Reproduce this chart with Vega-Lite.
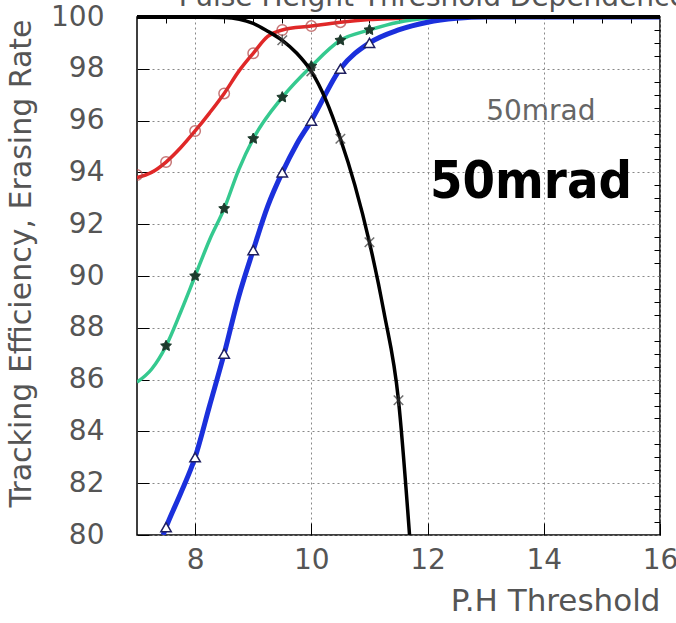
{
  "$schema": "https://vega.github.io/schema/vega-lite/v6.json",
  "width": 523,
  "height": 518,
  "autosize": {"type": "none"},
  "padding": {"left": 137, "top": 17, "right": 16, "bottom": 88},
  "background": "white",
  "config": {
    "view": {"stroke": "black", "strokeWidth": 1.5},
    "axis": {"labelFont": "DejaVu Sans", "titleFont": "DejaVu Sans", "labelColor": "#555", "titleColor": "#555", "labelFontSize": 28, "titleFontSize": 30, "titleFontWeight": "normal", "domainColor": "black", "tickColor": "black", "gridColor": "#888", "gridDash": [2, 3], "gridWidth": 1}
  },
  "resolve": {"axis": {"x": "independent", "y": "independent"}},
  "datasets": {
    "lines": [
      {"series": "red", "x": 7, "y": 93.8}, {"series": "red", "x": 7.25, "y": 94.0}, {"series": "red", "x": 7.5, "y": 94.4}, {"series": "red", "x": 7.75, "y": 94.95}, {"series": "red", "x": 8, "y": 95.6}, {"series": "red", "x": 8.25, "y": 96.3}, {"series": "red", "x": 8.5, "y": 97.05}, {"series": "red", "x": 8.75, "y": 97.9}, {"series": "red", "x": 9, "y": 98.6}, {"series": "red", "x": 9.25, "y": 99.25}, {"series": "red", "x": 9.5, "y": 99.5}, {"series": "red", "x": 10, "y": 99.65}, {"series": "red", "x": 10.5, "y": 99.8}, {"series": "red", "x": 11, "y": 99.9}, {"series": "red", "x": 11.5, "y": 99.95}, {"series": "red", "x": 12, "y": 100}, {"series": "red", "x": 16, "y": 100},
      {"series": "green", "x": 7, "y": 85.9}, {"series": "green", "x": 7.25, "y": 86.4}, {"series": "green", "x": 7.5, "y": 87.3}, {"series": "green", "x": 7.75, "y": 88.6}, {"series": "green", "x": 8, "y": 90.0}, {"series": "green", "x": 8.25, "y": 91.4}, {"series": "green", "x": 8.5, "y": 92.6}, {"series": "green", "x": 8.75, "y": 94.1}, {"series": "green", "x": 9, "y": 95.3}, {"series": "green", "x": 9.5, "y": 96.9}, {"series": "green", "x": 10, "y": 98.1}, {"series": "green", "x": 10.5, "y": 99.1}, {"series": "green", "x": 11, "y": 99.5}, {"series": "green", "x": 11.5, "y": 99.8}, {"series": "green", "x": 12, "y": 99.95}, {"series": "green", "x": 12.5, "y": 100}, {"series": "green", "x": 16, "y": 100},
      {"series": "blue", "x": 7.45, "y": 80.0}, {"series": "blue", "x": 7.5, "y": 80.3}, {"series": "blue", "x": 7.75, "y": 81.6}, {"series": "blue", "x": 8, "y": 83.0}, {"series": "blue", "x": 8.25, "y": 85.0}, {"series": "blue", "x": 8.5, "y": 87.0}, {"series": "blue", "x": 8.75, "y": 89.2}, {"series": "blue", "x": 9, "y": 91.0}, {"series": "blue", "x": 9.25, "y": 92.7}, {"series": "blue", "x": 9.5, "y": 94.0}, {"series": "blue", "x": 9.75, "y": 95.1}, {"series": "blue", "x": 10, "y": 96.0}, {"series": "blue", "x": 10.5, "y": 98.0}, {"series": "blue", "x": 11, "y": 99.0}, {"series": "blue", "x": 11.5, "y": 99.5}, {"series": "blue", "x": 12, "y": 99.8}, {"series": "blue", "x": 12.5, "y": 99.95}, {"series": "blue", "x": 13, "y": 100}, {"series": "blue", "x": 16, "y": 100},
      {"series": "black", "x": 7, "y": 100}, {"series": "black", "x": 8, "y": 100}, {"series": "black", "x": 8.5, "y": 99.98}, {"series": "black", "x": 9, "y": 99.75}, {"series": "black", "x": 9.25, "y": 99.45}, {"series": "black", "x": 9.5, "y": 99.1}, {"series": "black", "x": 9.75, "y": 98.6}, {"series": "black", "x": 10, "y": 97.9}, {"series": "black", "x": 10.25, "y": 96.8}, {"series": "black", "x": 10.5, "y": 95.3}, {"series": "black", "x": 10.75, "y": 93.5}, {"series": "black", "x": 11, "y": 91.3}, {"series": "black", "x": 11.25, "y": 88.6}, {"series": "black", "x": 11.5, "y": 85.2}, {"series": "black", "x": 11.69, "y": 80.0},
      {"series": "top", "x": 7, "y": 100}, {"series": "top", "x": 12, "y": 100}, {"series": "top", "x": 16, "y": 100}
    ],
    "markers": [
      {"series": "red", "x": 7, "y": 93.9}, {"series": "red", "x": 7.5, "y": 94.4}, {"series": "red", "x": 8, "y": 95.6}, {"series": "red", "x": 8.5, "y": 97.05}, {"series": "red", "x": 9, "y": 98.6}, {"series": "red", "x": 9.5, "y": 99.5}, {"series": "red", "x": 10, "y": 99.65}, {"series": "red", "x": 10.5, "y": 99.8},
      {"series": "green", "x": 7.5, "y": 87.3}, {"series": "green", "x": 8, "y": 90.0}, {"series": "green", "x": 8.5, "y": 92.6}, {"series": "green", "x": 9, "y": 95.3}, {"series": "green", "x": 9.5, "y": 96.9}, {"series": "green", "x": 10, "y": 98.1}, {"series": "green", "x": 10.5, "y": 99.1}, {"series": "green", "x": 11, "y": 99.5},
      {"series": "blue", "x": 7.5, "y": 80.3}, {"series": "blue", "x": 8, "y": 83.0}, {"series": "blue", "x": 8.5, "y": 87.0}, {"series": "blue", "x": 9, "y": 91.0}, {"series": "blue", "x": 9.5, "y": 94.0}, {"series": "blue", "x": 10, "y": 96.0}, {"series": "blue", "x": 10.5, "y": 98.0}, {"series": "blue", "x": 11, "y": 99.0},
      {"series": "black", "x": 9.5, "y": 99.1}, {"series": "black", "x": 10, "y": 97.9}, {"series": "black", "x": 10.5, "y": 95.3}, {"series": "black", "x": 11, "y": 91.3}, {"series": "black", "x": 11.5, "y": 85.2}
    ],
    "notes": [
      {"kind": "small", "label": "50mrad", "x": 13.95, "y": 96.02},
      {"kind": "big", "label": "50mrad", "x": 13.78, "y": 93.01},
      {"kind": "title", "label": "Pulse Height Threshold Dependence", "x": 7.72, "y": 100.42}
    ]
  },
  "encoding": {
    "x": {"field": "x", "type": "quantitative", "scale": {"domain": [7, 16], "nice": false, "zero": false}, "axis": null},
    "y": {"field": "y", "type": "quantitative", "scale": {"domain": [80, 100], "nice": false, "zero": false}, "axis": null}
  },
  "layer": [
    {"data": {"name": "lines"}, "transform": [{"filter": "datum.series == 'red'"}], "mark": {"type": "line", "interpolate": "monotone", "color": "#e02828", "strokeWidth": 3.5, "clip": true},
      "encoding": {
        "x": {"field": "x", "type": "quantitative", "scale": {"domain": [7, 16], "nice": false, "zero": false},
          "axis": {"title": "P.H Threshold", "titleAnchor": "end", "titleFontSize": 31, "titlePadding": 12, "values": [8, 10, 12, 14, 16], "format": "d", "labelPadding": 23, "labelFlush": false, "labelOverlap": false, "tickSize": -12, "domain": false, "grid": true}},
        "y": {"field": "y", "type": "quantitative", "scale": {"domain": [80, 100], "nice": false, "zero": false},
          "axis": {"title": "Tracking Efficiency, Erasing Rate", "titlePadding": 14, "titleY": 246, "values": [80, 82, 84, 86, 88, 90, 92, 94, 96, 98, 100], "format": "d", "labelPadding": 45, "labelFlush": false, "labelOverlap": false, "tickSize": -12, "domain": false, "grid": true}}
      }},
    {"data": {"name": "lines"}, "transform": [{"filter": "datum.series == 'green'"}], "mark": {"type": "line", "interpolate": "monotone", "color": "#35c98f", "strokeWidth": 3.5, "clip": true}},
    {"data": {"name": "lines"}, "transform": [{"filter": "datum.series == 'blue'"}], "mark": {"type": "line", "interpolate": "monotone", "color": "#1b30dc", "strokeWidth": 5, "clip": true}},
    {"data": {"name": "markers"}, "transform": [{"filter": "datum.series == 'red'"}], "mark": {"type": "point", "shape": "circle", "filled": false, "stroke": "#b04040", "strokeWidth": 1.5, "size": 110, "clip": true}},
    {"data": {"name": "markers"}, "transform": [{"filter": "datum.series == 'green'"}], "mark": {"type": "point", "shape": "M0,-1L0.294,-0.405L0.951,-0.309L0.476,0.155L0.588,0.809L0,0.5L-0.588,0.809L-0.476,0.155L-0.951,-0.309L-0.294,-0.405Z", "filled": true, "fill": "#1d3a2c", "stroke": "#1d3a2c", "strokeWidth": 1, "size": 130, "opacity": 1, "clip": true}},
    {"data": {"name": "markers"}, "transform": [{"filter": "datum.series == 'blue'"}], "mark": {"type": "point", "shape": "triangle-up", "filled": true, "fill": "white", "stroke": "#202060", "strokeWidth": 1.5, "size": 110, "opacity": 1, "clip": true}},
    {"data": {"name": "lines"}, "transform": [{"filter": "datum.series == 'black'"}], "mark": {"type": "line", "interpolate": "monotone", "color": "black", "strokeWidth": 3.5, "clip": true}},
    {"data": {"name": "lines"}, "transform": [{"filter": "datum.series == 'top'"}], "mark": {"type": "line", "color": "black", "strokeWidth": 4, "clip": false},
      "encoding": {
        "x": {"field": "x", "type": "quantitative", "scale": {"domain": [7, 16], "nice": false, "zero": false},
          "axis": {"title": null, "labels": false, "values": [7.5, 8.5, 9, 9.5, 10.5, 11, 11.5, 12.5, 13, 13.5, 14.5, 15, 15.5], "tickSize": -6, "domain": false, "grid": false}},
        "y": {"field": "y", "type": "quantitative", "scale": {"domain": [80, 100], "nice": false, "zero": false},
          "axis": {"title": null, "labels": false, "values": [80.5, 81, 81.5, 82.5, 83, 83.5, 84.5, 85, 85.5, 86.5, 87, 87.5, 88.5, 89, 89.5, 90.5, 91, 91.5, 92.5, 93, 93.5, 94.5, 95, 95.5, 96.5, 97, 97.5, 98.5, 99, 99.5], "tickSize": -6, "domain": false, "grid": false}}
      }},
    {"data": {"name": "markers"}, "transform": [{"filter": "datum.series == 'black'"}], "mark": {"type": "point", "shape": "M-1,-1L1,1M-1,1L1,-1M0,-1.2L0,1.2", "filled": false, "stroke": "#333", "strokeWidth": 1.5, "size": 90, "clip": true}},
    {"data": {"name": "notes"}, "transform": [{"filter": "datum.kind == 'small'"}], "mark": {"type": "text", "font": "DejaVu Sans", "fontSize": 28, "color": "#666", "align": "center", "baseline": "alphabetic"}, "encoding": {"text": {"field": "label"}}},
    {"data": {"name": "notes"}, "transform": [{"filter": "datum.kind == 'big'"}], "mark": {"type": "text", "font": "DejaVu Sans Condensed", "fontSize": 52, "fontWeight": "bold", "color": "black", "align": "center", "baseline": "alphabetic"}, "encoding": {"text": {"field": "label"}}},
    {"data": {"name": "notes"}, "transform": [{"filter": "datum.kind == 'title'"}], "mark": {"type": "text", "font": "DejaVu Sans", "fontSize": 28, "color": "#555", "align": "left", "baseline": "alphabetic", "clip": false}, "encoding": {"text": {"field": "label"}}}
  ]
}
